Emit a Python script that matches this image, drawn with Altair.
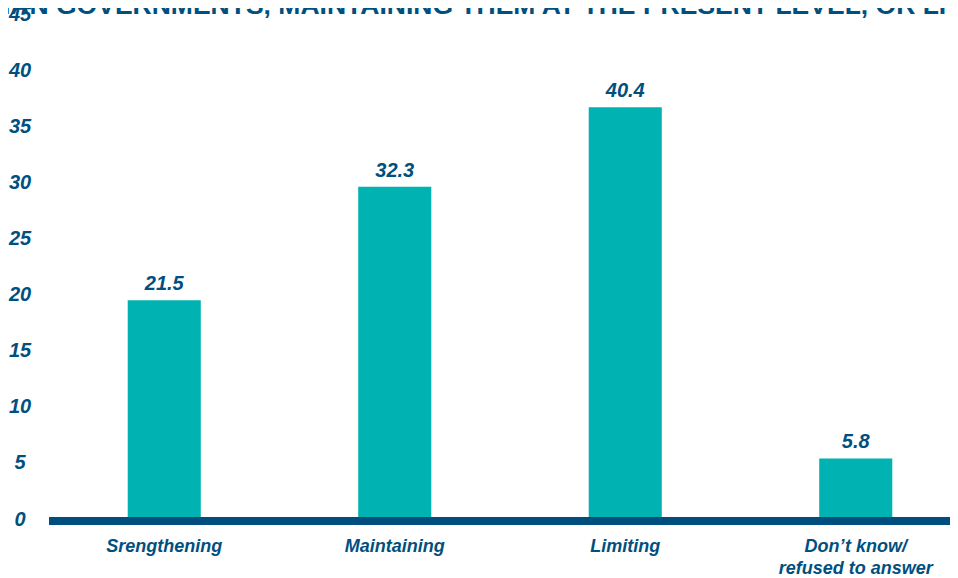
import altair as alt
import pandas as pd

# ---- data ----
categories = ["Srengthening", "Maintaining", "Limiting", "Don’t know/ refused to answer"]
display_labels = ["Srengthening", "Maintaining", "Limiting", "Don’t know/\nrefused to answer"]
value_labels = ["21.5", "32.3", "40.4", "5.8"]
bar_heights = [19.5, 29.6, 36.7, 5.4]   # drawn heights as read on the axis
y_ticks = [0, 5, 10, 15, 20, 25, 30, 35, 40, 45]
title_text = "IAN GOVERNMENTS, MAINTAINING THEM AT THE PRESENT LEVEL, OR LI"

TEAL = "#00B2B2"
NAVY = "#00507F"
LINE = "#004E7E"
FONT = "Liberation Sans"

df = pd.DataFrame({
    "cat": categories,
    "disp": display_labels,
    "label": value_labels,
    "h": bar_heights,
})

W, H = 901, 505
xscale = alt.Scale(domain=categories, range=[0, 922], paddingInner=0.683, paddingOuter=0.3415)
yscale = alt.Scale(domain=[0, 45], nice=False, zero=True)

x_enc = alt.X("cat:N", scale=xscale, axis=None, sort=None)

base = alt.Chart(df)

bars = base.mark_bar(color=TEAL).encode(
    x=x_enc,
    y=alt.Y("h:Q", scale=yscale, title=None,
            axis=alt.Axis(values=y_ticks, ticks=False, domain=False, grid=False,
                          labelAlign="center", labelPadding=29.5,
                          labelFont=FONT, labelFontSize=20, labelFontWeight="bold",
                          labelFontStyle="italic", labelColor=NAVY,
                          labelBaseline="middle", labelFlush=False, labelOverlap=False)),
)

zero_line = alt.Chart(pd.DataFrame({"z": [0]})).mark_rule(
    color=LINE, strokeWidth=8, yOffset=2, strokeCap="butt"
).encode(
    y=alt.Y("z:Q", scale=yscale),
    x=alt.value(0),
    x2=alt.value(922),
)

vals = base.mark_text(
    font=FONT, fontSize=20, fontWeight="bold", fontStyle="italic",
    color=NAVY, baseline="middle", dy=-16,
).encode(
    x=x_enc,
    y=alt.Y("h:Q", scale=yscale),
    text="label:N",
)

cats = base.mark_text(
    font=FONT, fontSize=18, fontWeight="bold", fontStyle="italic",
    color=NAVY, baseline="top", lineBreak="\n", lineHeight=22,
).encode(
    x=x_enc,
    y=alt.value(524),
    text="disp:N",
)

title = alt.Chart(pd.DataFrame({"t": [title_text]})).mark_text(
    font=FONT, fontSize=26.5, fontWeight="bold", color=NAVY,
    align="left", baseline="alphabetic",
).encode(
    x=alt.value(-46),
    y=alt.value(0),
    text="t:N",
)

chart = alt.layer(title, bars, zero_line, vals, cats).properties(
    width=W, height=H,
    autosize=alt.AutoSizeParams(type="none"),
    padding={"left": 41, "top": 6, "right": 0, "bottom": 59},
).configure_view(stroke=None)

chart.save("out.html", embed_options={"renderer": "svg", "actions": False})
